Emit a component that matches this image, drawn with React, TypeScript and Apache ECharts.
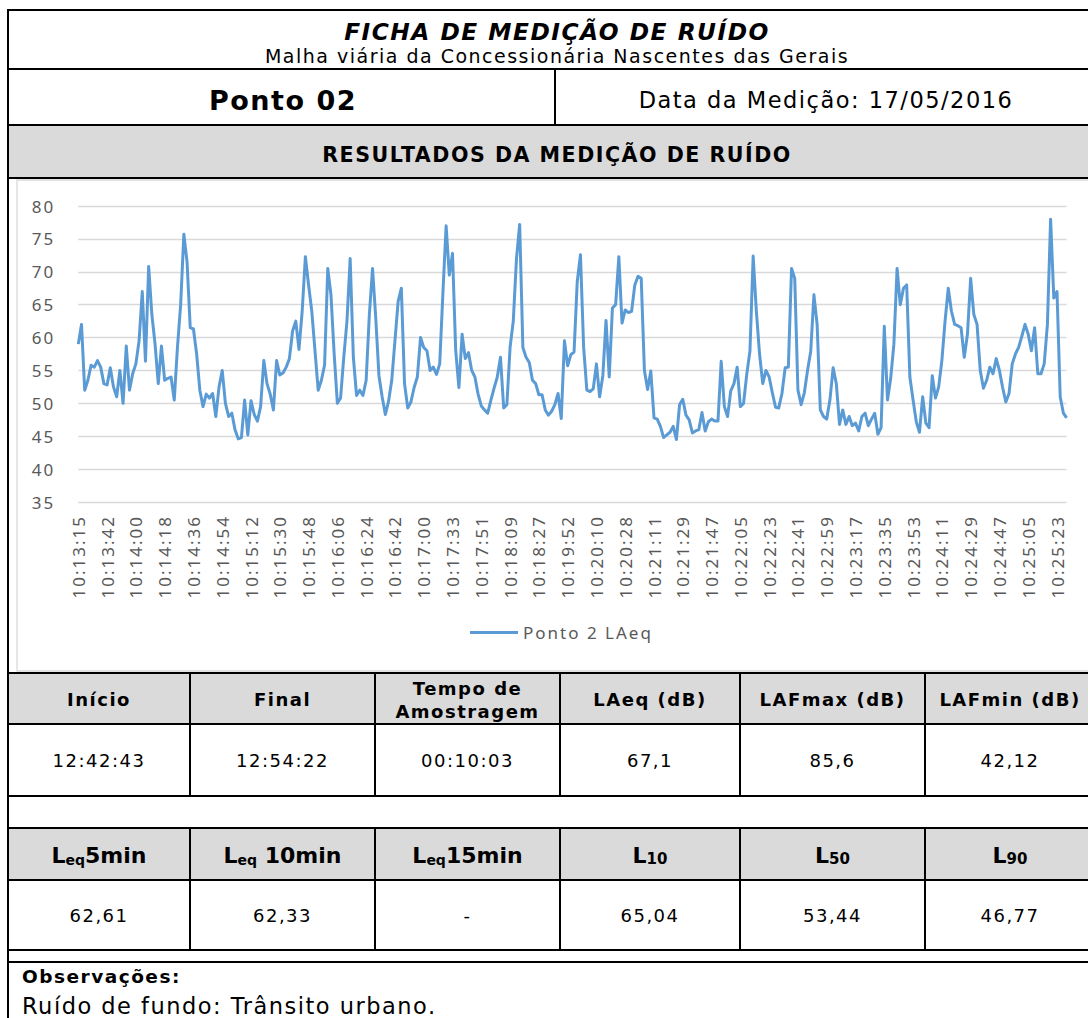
import React, { useEffect, useRef } from "react";
import * as echarts from "echarts";

// ---------- data ----------
const tickLabels = [
  "10:13:15", "10:13:42", "10:14:00", "10:14:18", "10:14:36", "10:14:54", "10:15:12",
  "10:15:30", "10:15:48", "10:16:06", "10:16:24", "10:16:42", "10:17:00", "10:17:33",
  "10:17:51", "10:18:09", "10:18:27", "10:19:52", "10:20:10", "10:20:28", "10:21:11",
  "10:21:29", "10:21:47", "10:22:05", "10:22:23", "10:22:41", "10:22:59", "10:23:17",
  "10:23:35", "10:23:53", "10:24:11", "10:24:29", "10:24:47", "10:25:05", "10:25:23",
];
const LABEL_STEP = 9;

const laeqPart1 = [
  59, 62, 52, 53.5, 55.8, 55.5, 56.5, 55.5, 53, 52.8,
  55.4, 52.5, 51, 55, 50, 58.7, 52, 54.5, 56, 59.5,
  67, 56.4, 70.8, 63.5, 59, 53, 58.7, 53.5, 53.8, 54,
  50.5, 58.5, 65, 75.7, 71.5, 61.5, 61.3, 57.5, 52, 49.5,
  51.4, 50.8, 51.5, 48, 52.5, 55, 50, 48, 48.5, 46,
  44.6, 44.8, 50.5, 45.2, 50.4, 48.3, 47.3, 49.5, 56.5, 53,
  51.4, 49, 56.5, 54.3, 54.6, 55.5, 56.8, 61, 62.5, 58.2,
  64, 72.3, 68, 64, 58, 52, 53.5, 55.8, 70.5, 66.5,
];
const laeqPart2 = [
  57.5, 50, 50.8, 57, 62.5, 72, 57, 51.2, 52, 51.2,
  53.5, 63.5, 70.5, 63, 54.2, 51, 48.3, 50.3, 53.5, 59.5,
  65.5, 67.5, 53, 49.3, 50.2, 52.4, 54, 60, 58.5, 58,
  55, 55.5, 54.4, 56, 66.8, 77, 69.5, 72.8, 58, 52.4,
  60.5, 56.8, 57.7, 55, 54, 51.4, 49.6, 49, 48.5, 50.5,
  52.3, 54, 57, 49.3, 49.8, 58.5, 62.5, 72, 77.2, 58.5,
  57, 56.2, 53.5, 53, 51.3, 51.3, 49, 48.2, 48.8, 49.8,
  51.5, 47.7, 59.5, 55.7, 57.4, 57.8, 68.5, 72.6, 58.5, 52,
];
const laeqPart3 = [
  51.8, 52.2, 56, 51, 54.2, 62.6, 54, 64.5, 65, 72.3,
  62.2, 64.2, 63.8, 64, 68, 69.3, 69, 55, 52.1, 54.9,
  47.8, 47.6, 46.5, 44.8, 45.2, 45.6, 46.5, 44.5, 49.8, 50.6,
  48.2, 47.5, 45.5, 45.8, 46, 48.6, 45.8, 47.2, 47.6, 47.3,
  47.3, 56.4, 49.5, 48, 51.9, 53, 55.5, 49.5, 50, 54.4,
  58, 72.4, 64, 57.5, 53, 55, 54, 51.6, 49.4, 49.3,
  51.5, 55.4, 55.5, 70.5, 69, 52, 49.8, 51.6, 55, 57.9,
  66.5, 62, 49, 48, 47.6, 50.5, 55.4, 53, 46.8, 49,
];
const laeqPart4 = [
  46.8, 48, 46.6, 47, 45.8, 48, 48.5, 46.6, 47.6, 48.5,
  45.3, 46.3, 61.7, 50.5, 53.8, 59, 70.5, 65, 67.5, 68,
  54, 50.5, 47.2, 45.6, 51, 47, 46.3, 54.2, 50.8, 52.5,
  56.5, 62.5, 67.5, 64, 62, 61.8, 61.5, 57, 60.5, 69,
  63.5, 62, 55, 52.3, 53.5, 55.5, 54.5, 56.8, 55, 52.4,
  50.2, 51.5, 56, 57.5, 58.5, 60.2, 62, 60.5, 58, 61.5,
  54.5, 54.5, 56, 62, 78, 66, 67, 51, 48.5, 47.8,
];
const laeq = [...laeqPart1, ...laeqPart2, ...laeqPart3, ...laeqPart4];
const categories = laeq.map((_, i) =>
  i % LABEL_STEP === 0 && tickLabels[i / LABEL_STEP] ? tickLabels[i / LABEL_STEP] : "p" + i
);

const yTicks = { min: 35, max: 80, step: 5 };

const titleText = "FICHA DE MEDIÇÃO DE RUÍDO";
const subtitleText = "Malha viária da Concessionária Nascentes das Gerais";
const pointText = "Ponto 02";
const dateText = "Data da Medição: 17/05/2016";
const sectionText = "RESULTADOS DA MEDIÇÃO DE RUÍDO";

const headers1 = ["Início", "Final", "Tempo de\nAmostragem", "LAeq (dB)", "LAFmax (dB)", "LAFmin (dB)"];
const values1 = ["12:42:43", "12:54:22", "00:10:03", "67,1", "85,6", "42,12"];
const headers2 = [
  "{a|L}{s|eq}{a|5min}",
  "{a|L}{s|eq}{a| 10min}",
  "{a|L}{s|eq}{a|15min}",
  "{a|L}{t|10}",
  "{a|L}{t|50}",
  "{a|L}{t|90}",
];
const values2 = ["62,61", "62,33", "-", "65,04", "53,44", "46,77"];
const obsTitle = "Observações:";
const obsText = "Ruído de fundo: Trânsito urbano.";

// ---------- layout ----------
const W = 1088;
const H = 1018;
const FORM = "DejaVu Sans, lsA";
const FORM_PLAIN = "DejaVu Sans";
const CHART_FONT = "Noto Sans, lsC";
const colEdges = [8, 190, 375, 560, 740, 925, 1095];
const RIGHT = 1110;
const GREY = "#DADADA";

const css = `
#root text[style*="lsA"]{letter-spacing:1.5px}
#root text[style*="lsC"]{letter-spacing:2px}
`;

function txt(x: number, y: number, text: string, size: number, extra: any = {}) {
  return {
    type: "text",
    x,
    y,
    z: 20,
    style: {
      text,
      fontSize: size,
      fontFamily: FORM,
      fill: "#000",
      textAlign: "center",
      textVerticalAlign: "middle",
      verticalAlign: "middle",
      ...extra,
    },
  };
}
function hline(y: number, x1 = 8, x2 = RIGHT, color = "#000", w = 2) {
  return { type: "line", z: 30, shape: { x1, y1: y, x2, y2: y }, style: { stroke: color, lineWidth: w } };
}
function vline(x: number, y1: number, y2: number, color = "#000", w = 2) {
  return { type: "line", z: 30, shape: { x1: x, y1, x2: x, y2 }, style: { stroke: color, lineWidth: w } };
}
function rect(x: number, y: number, w: number, h: number, fill: string, stroke?: string) {
  return {
    type: "rect",
    z: -10,
    shape: { x, y, width: w, height: h },
    style: { fill, stroke: stroke || "none", lineWidth: stroke ? 1.3 : 0 },
  };
}

function buildGraphic() {
  const g: any[] = [];
  g.push(rect(8, 126, RIGHT - 8, 52, GREY));
  g.push(rect(17, 180, RIGHT, 491, "none", "#D9D9D9"));
  g.push(rect(8, 674, RIGHT - 8, 50, GREY));
  g.push(rect(8, 829, RIGHT - 8, 51, GREY));

  [10, 69, 125, 178, 673, 724, 796, 828, 880, 950, 962].forEach((y) => g.push(hline(y)));
  g.push(vline(8, 9, H));
  g.push(vline(555, 69, 125));
  for (let k = 1; k < colEdges.length - 1; k++) {
    g.push(vline(colEdges[k], 673, 796));
    g.push(vline(colEdges[k], 828, 950));
  }

  g.push(txt(557, 31, titleText, 23.3, { fontWeight: "bold", fontStyle: "italic" }));
  g.push(txt(557, 56, subtitleText, 19));
  g.push(txt(283, 100, pointText, 27, { fontWeight: "bold" }));
  g.push(txt(826, 100, dateText, 22.5));
  g.push(txt(557, 155, sectionText, 20.6, { fontWeight: "bold" }));

  const richStyles = {
    a: { fontSize: 22, fontWeight: "bold", fontFamily: FORM_PLAIN, lineHeight: 26, verticalAlign: "middle" },
    s: { fontSize: 14, fontWeight: "bold", fontFamily: FORM_PLAIN, lineHeight: 26, padding: [10, 0, 0, 0], verticalAlign: "middle" },
    t: { fontSize: 15, fontWeight: "bold", fontFamily: FORM_PLAIN, lineHeight: 26, padding: [8, 0, 0, 0], verticalAlign: "middle" },
  };

  for (let k = 0; k < 6; k++) {
    const cx = (colEdges[k] + colEdges[k + 1]) / 2;
    g.push(txt(cx, 699.5, headers1[k], 18, { fontWeight: "bold", lineHeight: 23 }));
    g.push(txt(cx, 760, values1[k], 18));
    g.push(txt(cx, 855, headers2[k], 22, { fontWeight: "bold", fontFamily: FORM_PLAIN, rich: richStyles }));
    g.push(txt(cx, 915, values2[k], 18));
  }

  g.push(txt(22, 976, obsTitle, 18.5, { fontWeight: "bold", textAlign: "left" }));
  g.push(txt(22, 1006, obsText, 22.5, { textAlign: "left" }));
  return g;
}

export default function App() {
  const ref = useRef<HTMLDivElement>(null);
  useEffect(() => {
    if (!ref.current) return;
    const chart = echarts.init(ref.current, null, { renderer: "svg", width: W, height: H });
    const option: any = {
      animation: false,
      backgroundColor: "#FFFFFF",
      graphic: buildGraphic(),
      grid: { left: 78.3, right: W - 1066.6, top: 206, height: 296, containLabel: false },
      legend: {
        data: ["Ponto 2 LAeq"],
        left: 470,
        top: 624,
        padding: 0,
        icon: "rect",
        itemWidth: 48,
        itemHeight: 3,
        textStyle: { fontFamily: CHART_FONT, fontSize: 17, color: "#595959" },
      },
      xAxis: {
        type: "category",
        data: categories,
        boundaryGap: false,
        axisLine: { show: false },
        axisTick: { show: false },
        splitLine: { show: false },
        axisLabel: {
          interval: LABEL_STEP - 1,
          rotate: 90,
          margin: 13,
          color: "#595959",
          fontSize: 17,
          fontFamily: CHART_FONT,
        },
      },
      yAxis: {
        type: "value",
        min: yTicks.min,
        max: yTicks.max,
        interval: yTicks.step,
        axisLine: { show: false },
        axisTick: { show: false },
        axisLabel: { margin: 23, color: "#595959", fontSize: 17, fontFamily: CHART_FONT },
        splitLine: { lineStyle: { color: "#D9D9D9", width: 1.3 } },
      },
      series: [
        {
          name: "Ponto 2 LAeq",
          type: "line",
          data: laeq,
          symbol: "none",
          showSymbol: false,
          z: 5,
          lineStyle: { color: "#5B9BD5", width: 3, join: "round" },
          itemStyle: { color: "#5B9BD5" },
        },
      ],
    };
    chart.setOption(option);
    return () => chart.dispose();
  }, []);
  return (
    <>
      <style>{css}</style>
      <div
        ref={ref}
        style={{ position: "absolute", left: 0, top: 0, width: W, height: H, background: "#fff" }}
      />
    </>
  );
}
